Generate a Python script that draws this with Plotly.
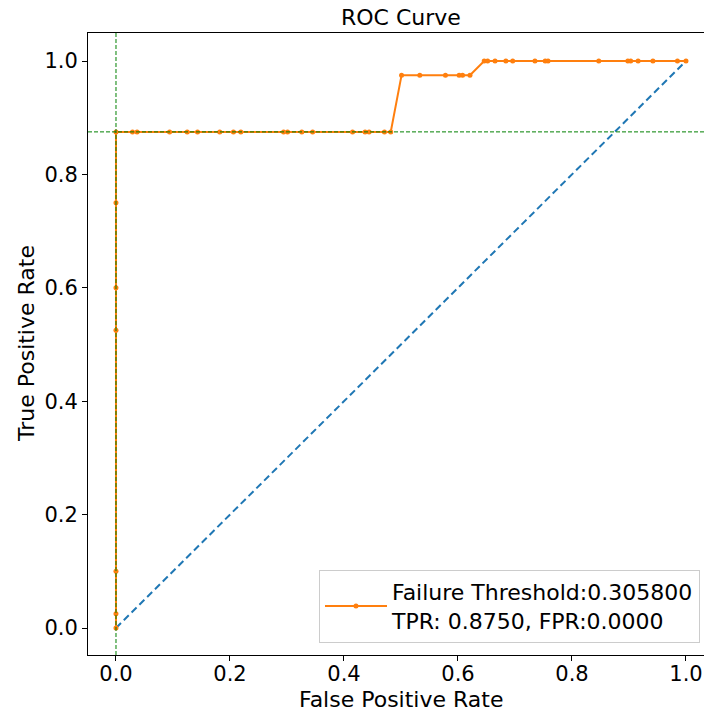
import plotly.graph_objects as go

# ROC curve points
fpr = [0, 0, 0, 0, 0, 0, 0,
       0.029, 0.037, 0.094, 0.125, 0.143, 0.182, 0.206, 0.219, 0.294, 0.301,
       0.326, 0.345, 0.415, 0.437, 0.444, 0.471, 0.482,
       0.501, 0.533, 0.578, 0.602, 0.608, 0.621,
       0.646, 0.652, 0.665, 0.684, 0.696, 0.735, 0.753, 0.758, 0.847, 0.898,
       0.903, 0.916, 0.942, 0.985, 1.0]
tpr = [0, 0.025, 0.1, 0.525, 0.6, 0.75, 0.875,
       0.875, 0.875, 0.875, 0.875, 0.875, 0.875, 0.875, 0.875, 0.875, 0.875,
       0.875, 0.875, 0.875, 0.875, 0.875, 0.875, 0.875,
       0.975, 0.975, 0.975, 0.975, 0.975, 0.975,
       1.0, 1.0, 1.0, 1.0, 1.0, 1.0, 1.0, 1.0, 1.0, 1.0,
       1.0, 1.0, 1.0, 1.0, 1.0]

diag_x = [0, 1]
diag_y = [0, 1]

threshold_tpr = 0.875
threshold_fpr = 0.0
legend_label = "Failure Threshold:0.305800<br>TPR: 0.8750, FPR:0.0000"

x_ticks = [0.0, 0.2, 0.4, 0.6, 0.8, 1.0]
y_ticks = [0.0, 0.2, 0.4, 0.6, 0.8, 1.0]

FONT = "DejaVu Sans"

fig = go.Figure()
fig.add_trace(go.Scatter(
    x=diag_x, y=diag_y, mode="lines", showlegend=False,
    line=dict(color="#1f77b4", width=2, dash="7px,4px"),
))
fig.add_trace(go.Scatter(
    x=fpr, y=tpr, mode="lines+markers", name=legend_label,
    line=dict(color="#ff7f0e", width=2),
    marker=dict(color="#ff7f0e", size=5),
))

fig.add_hline(y=threshold_tpr, line=dict(color="green", width=1, dash="4px,2px"), layer="above")
fig.add_vline(x=threshold_fpr, line=dict(color="green", width=1, dash="4px,2px"), layer="above")

axis_common = dict(
    showgrid=False, zeroline=False, showline=True, linecolor="black", linewidth=1,
    ticks="outside", ticklen=5, tickwidth=1, tickcolor="black",
    tickfont=dict(size=21, color="black", family=FONT),
)

fig.update_layout(
    width=704, height=711,
    margin=dict(l=88, r=0, t=33, b=56),
    plot_bgcolor="white", paper_bgcolor="white",
    font=dict(family=FONT, color="black"),
    xaxis=dict(range=[-0.0491, 1.0316], tickvals=x_ticks, tickformat=".1f",
               mirror=True, ticklabelstandoff=-5, **axis_common),
    yaxis=dict(range=[-0.0476, 1.0494], tickvals=y_ticks, tickformat=".1f",
               **axis_common),
    legend=dict(
        x=0.9935, y=0.0193, xanchor="right", yanchor="bottom",
        bgcolor="rgba(255,255,255,0.8)", bordercolor="#cccccc", borderwidth=1,
        font=dict(size=22, color="black", family=FONT), valign="middle",
        itemwidth=62,
    ),
    annotations=[
        dict(text="ROC Curve", xref="paper", yref="paper", x=(401 - 88) / 616,
             y=1 + 15 / 622, xanchor="center", yanchor="middle", showarrow=False,
             font=dict(size=22, color="black", family=FONT)),
        dict(text="False Positive Rate", xref="paper", yref="paper", x=(401 - 88) / 616,
             y=-(699 - 655) / 622, xanchor="center", yanchor="middle", showarrow=False,
             font=dict(size=22, color="black", family=FONT)),
        dict(text="True Positive Rate", xref="paper", yref="paper", x=-(88 - 26) / 616,
             y=0.5, xanchor="center", yanchor="middle", textangle=-90, showarrow=False,
             font=dict(size=22, color="black", family=FONT)),
    ],
)

fig.write_html(
    "out.html",
    config={"displayModeBar": False},
    post_script="document.body.style.margin='0';document.body.style.overflow='hidden';",
)
